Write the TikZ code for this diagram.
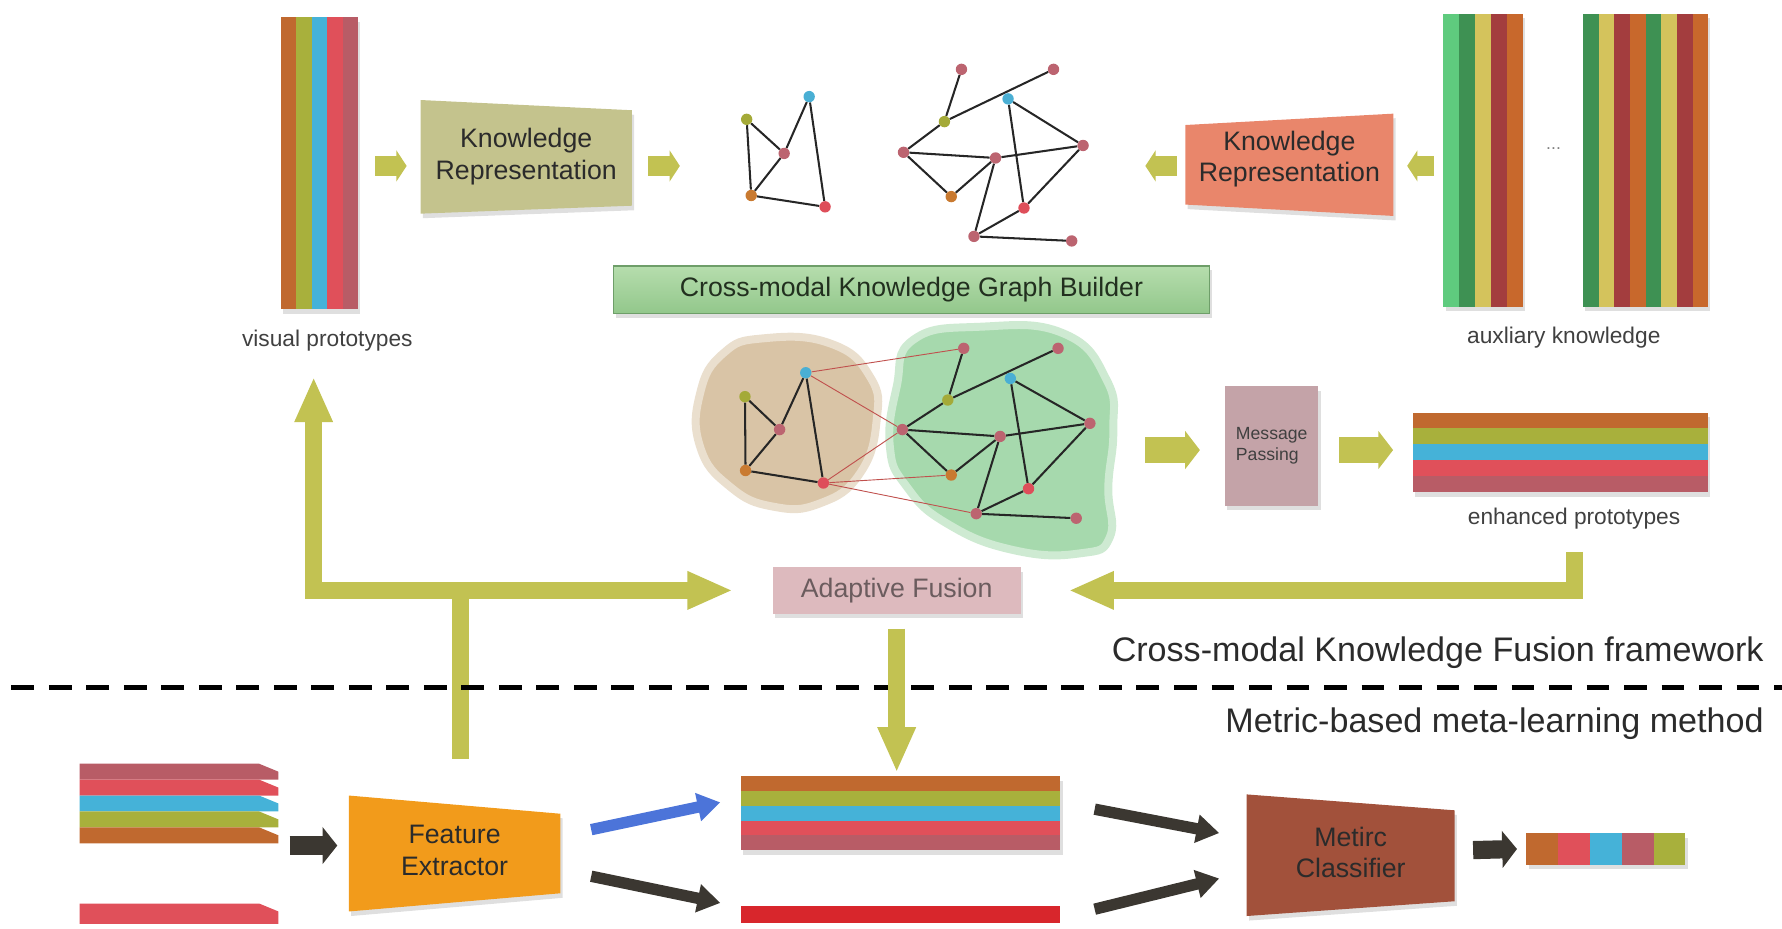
\documentclass[tikz,border=0pt]{standalone}
\usepackage{fontspec}
\setmainfont{Liberation Sans}
\usetikzlibrary{arrows.meta,calc,shadows}
\pgfdeclarelayer{back}
\pgfdeclarelayer{bg}
\pgfsetlayers{back,bg,main}
\definecolor{pOrange}{HTML}{C0692F}
\definecolor{pOlive}{HTML}{A8B03C}
\definecolor{pBlue}{HTML}{45B2D8}
\definecolor{pRed}{HTML}{E0505A}
\definecolor{pRose}{HTML}{B85C66}
\definecolor{kLgreen}{HTML}{5FCB7E}
\definecolor{kDgreen}{HTML}{3E9153}
\definecolor{kYellow}{HTML}{D4C35C}
\definecolor{kDred}{HTML}{A33D3E}
\definecolor{kOrange}{HTML}{C8682C}
\definecolor{flowOlive}{HTML}{C2C252}
\definecolor{krOlive}{HTML}{C4C38D}
\definecolor{krSalmon}{HTML}{E9866B}
\definecolor{builderTop}{HTML}{B6DDAD}
\definecolor{builderBot}{HTML}{92C78B}
\definecolor{builderLine}{HTML}{6E9E69}
\definecolor{builderText}{HTML}{22301F}
\definecolor{blobTan}{HTML}{D9C4A6}
\definecolor{blobGreen}{HTML}{A6D9AD}
\definecolor{mpMauve}{HTML}{C4A3A8}
\definecolor{afPink}{HTML}{DDBABE}
\definecolor{afText}{HTML}{6B5C5E}
\definecolor{feOrange}{HTML}{F29B1B}
\definecolor{mcBrown}{HTML}{A2513B}
\definecolor{darkArrow}{HTML}{3B3731}
\definecolor{blueArrow}{HTML}{4C74D9}
\definecolor{qRed}{HTML}{D8262C}
\definecolor{txt}{HTML}{2B2B2B}
\definecolor{crossEdge}{HTML}{C0504D}
\definecolor{gGreen}{HTML}{A4AA38}
\definecolor{gBlue}{HTML}{4AAFD4}
\definecolor{gRose}{HTML}{BC6470}
\definecolor{gOrange}{HTML}{C97A30}
\definecolor{gRed}{HTML}{DE4E5A}
\newcommand\lblfont{\fontsize{23.5}{28}\selectfont}
\newcommand\capfont{\fontsize{20}{24}\selectfont}
\newcommand\secfont{\fontsize{30}{36}\selectfont}
\newcommand\mpfont{\fontsize{15.5}{18.5}\selectfont}
\tikzset{
    tag/.style={inner sep=0pt, draw=none, align=center, text=txt},
    captext/.style={inner sep=0pt, text=txt!90, font=\capfont},
    soft shadow/.style={drop shadow={opacity=0.25, shadow xshift=2pt, shadow yshift=-4pt}},
    gnode/.style={circle, inner sep=0pt, minimum size=10pt, fill=#1},
    gedge/.style={line width=1.8pt, black!85},
    xedge/.style={line width=0.8pt, crossEdge},
    small flow/.style={flowOlive, line width=17pt, -{Triangle[width=27pt,length=9pt]}},
    mid flow/.style={flowOlive, line width=23pt, -{Triangle[width=33pt,length=13pt]}},
    big flow/.style={flowOlive, line width=15pt, line join=miter, -{Triangle[width=31pt,length=40pt]}},
    dark block/.style={darkArrow, line width=16pt, -{Triangle[width=32pt,length=13pt]}},
    dark flow/.style={darkArrow, line width=10pt, -{Triangle[width=24pt,length=20pt]}}
}

\begin{document}
\begin{tikzpicture}[x=1pt,y=-1pt]
        \useasboundingbox (0,0) rectangle (1568,817);
        \coordinate (row) at (0,146);
        \path[fill=pRose, soft shadow] (247,15) rectangle (315,272);
        \foreach \c [count=\i from 0] in {pOrange,pOlive,pBlue,pRed,pRose}
                \fill[\c] (247+13.6*\i,15) rectangle ++(13.6,257);
        \node (vis) [tag, minimum width=68pt, minimum height=257pt] at (281,143.5) {};
        \node (vislab) [captext] at (288,300) {visual prototypes};
        \begin{pgfonlayer}{bg}
                \fill[krOlive, soft shadow] (370,88) -- (556,97) -- (556,181) -- (370,188) -- cycle;
                \fill[krSalmon, soft shadow] (1043,110) -- (1226,100) -- (1226,190) -- (1043,180) -- cycle;
        \end{pgfonlayer}
        \node (kr1) [tag, font=\lblfont, minimum width=186pt, minimum height=100pt] at (463,138) {Knowledge\\Representation};
        \node (kr2) [tag, font=\lblfont, minimum width=183pt, minimum height=90pt] at (1134.5,140) {Knowledge\\Representation};
        \path[fill=kOrange, soft shadow] (1270,12) rectangle (1340,270);
        \foreach \c [count=\i from 0] in {kLgreen,kDgreen,kYellow,kDred,kOrange}
                \fill[\c] (1270+14*\i,12) rectangle ++(14,258);
        \path[fill=kOrange, soft shadow] (1393,12) rectangle (1503,270);
        \foreach \c [count=\i from 0] in {kDgreen,kYellow,kDred,kOrange,kDgreen,kYellow,kDred,kOrange}
                \fill[\c] (1393+13.75*\i,12) rectangle ++(13.75,258);
        \node (aux1) [tag, minimum width=70pt, minimum height=258pt] at (1305,141) {};
        \node (aux2) [tag, minimum width=110pt, minimum height=258pt] at (1448,141) {};
        \node (auxdots) [tag, text=gray, font=\mpfont] at (1367,131) {...};
        \node (auxlab) [captext] at (1376,297) {auxliary knowledge};
        \draw[small flow] ($(vis.east |- row)+(15,0)$) -- ($(kr1.west |- row)+(-12,0)$);
        \draw[small flow] ($(kr1.east |- row)+(14,0)$) -- ($(kr1.east |- row)+(42,0)$);
        \draw[small flow] ($(kr2.west |- row)+(-7,0)$) -- ($(kr2.west |- row)+(-35,0)$);
        \draw[small flow] ($(aux1.west |- row)+(-8,0)$) -- ($(kr2.east |- row)+(12,0)$);
        \node (v0) [gnode=gGreen] at (657,105) {};
        \node (v1) [gnode=gBlue] at (712,85) {};
        \node (v2) [gnode=gRose] at (690,135) {};
        \node (v3) [gnode=gOrange] at (661,172) {};
        \node (v4) [gnode=gRed] at (726,182) {};
        \node (k0) [gnode=gRose] at (846,61) {};
        \node (k1) [gnode=gRose] at (927,61) {};
        \node (k2) [gnode=gGreen] at (831,107) {};
        \node (k3) [gnode=gBlue] at (887,87) {};
        \node (k4) [gnode=gRose] at (795,134) {};
        \node (k5) [gnode=gRose] at (876,139) {};
        \node (k6) [gnode=gRose] at (953,128) {};
        \node (k7) [gnode=gOrange] at (837,173) {};
        \node (k8) [gnode=gRed] at (901,183) {};
        \node (k9) [gnode=gRose] at (857,208) {};
        \node (k10) [gnode=gRose] at (943,212) {};
        \begin{pgfonlayer}{bg}
                \draw[gedge] (v0) -- (v2);
                \draw[gedge] (v0) -- (v3);
                \draw[gedge] (v1) -- (v2);
                \draw[gedge] (v2) -- (v3);
                \draw[gedge] (v1) -- (v4);
                \draw[gedge] (v3) -- (v4);
                \draw[gedge] (k0) -- (k2);
                \draw[gedge] (k2) -- (k4);
                \draw[gedge] (k2) -- (k1);
                \draw[gedge] (k4) -- (k5);
                \draw[gedge] (k5) -- (k6);
                \draw[gedge] (k4) -- (k7);
                \draw[gedge] (k7) -- (k5);
                \draw[gedge] (k5) -- (k9);
                \draw[gedge] (k9) -- (k8);
                \draw[gedge] (k8) -- (k6);
                \draw[gedge] (k9) -- (k10);
                \draw[gedge] (k3) -- (k8);
                \draw[gedge] (k3) -- (k6);
        \end{pgfonlayer}
        \node (builder) [tag, font=\lblfont, text=builderText, minimum width=524pt, minimum height=42pt, top color=builderTop, bottom color=builderBot, draw=builderLine, line width=1pt, soft shadow] at (802,255) {Cross-modal Knowledge Graph Builder};
        \begin{pgfonlayer}{back}
                \fill[blobTan, draw=blobTan!55, line width=7pt] plot[smooth cycle, tension=0.8] coordinates {(671.7,297.7) (730.3,302.1) (765.5,331.4) (771.4,369.6) (756.7,416.5) (721.5,442.9) (680.4,445.8) (642.3,428.2) (616,393) (616,346.1) (636.4,310.9)};
                \fill[blobGreen, draw=blobGreen!55, line width=7pt] plot[smooth cycle, tension=0.8] coordinates {(803.6,299) (862.3,287.5) (935.6,293.3) (973.8,334.4) (979.6,378.4) (975.2,428.2) (976.7,472.2) (950.3,486.9) (891.6,484) (833,460.5) (797.8,428.2) (783,393) (789,340.2)};
        \end{pgfonlayer}
        \node (fv0) [gnode=gGreen] at (655.5,349) {};
        \node (fv1) [gnode=gBlue] at (709,328) {};
        \node (fv2) [gnode=gRose] at (686,378) {};
        \node (fv3) [gnode=gOrange] at (656,414) {};
        \node (fv4) [gnode=gRed] at (724.5,425) {};
        \node (fk0) [gnode=gRose] at (848,306.5) {};
        \node (fk1) [gnode=gRose] at (931,306.5) {};
        \node (fk2) [gnode=gGreen] at (834,352) {};
        \node (fk3) [gnode=gBlue] at (889,333) {};
        \node (fk4) [gnode=gRose] at (794,378) {};
        \node (fk5) [gnode=gRose] at (880,384) {};
        \node (fk6) [gnode=gRose] at (959,372.5) {};
        \node (fk7) [gnode=gOrange] at (837,418) {};
        \node (fk8) [gnode=gRed] at (905,430) {};
        \node (fk9) [gnode=gRose] at (859,452) {};
        \node (fk10) [gnode=gRose] at (947,456) {};
        \begin{pgfonlayer}{bg}
                \draw[gedge] (fv0) -- (fv2);
                \draw[gedge] (fv0) -- (fv3);
                \draw[gedge] (fv1) -- (fv2);
                \draw[gedge] (fv2) -- (fv3);
                \draw[gedge] (fv1) -- (fv4);
                \draw[gedge] (fv3) -- (fv4);
                \draw[gedge] (fk0) -- (fk2);
                \draw[gedge] (fk2) -- (fk4);
                \draw[gedge] (fk2) -- (fk1);
                \draw[gedge] (fk4) -- (fk5);
                \draw[gedge] (fk5) -- (fk6);
                \draw[gedge] (fk4) -- (fk7);
                \draw[gedge] (fk7) -- (fk5);
                \draw[gedge] (fk5) -- (fk9);
                \draw[gedge] (fk9) -- (fk8);
                \draw[gedge] (fk8) -- (fk6);
                \draw[gedge] (fk9) -- (fk10);
                \draw[gedge] (fk3) -- (fk8);
                \draw[gedge] (fk3) -- (fk6);
                \draw[xedge] (fv1) -- (fk0);
                \draw[xedge] (fv1) -- (fk4);
                \draw[xedge] (fv4) -- (fk4);
                \draw[xedge] (fv4) -- (fk7);
                \draw[xedge] (fv4) -- (fk9);
        \end{pgfonlayer}
        \node (mp) [tag, fill=mpMauve, text=txt!90, font=\mpfont, align=left, minimum width=82pt, minimum height=105pt, soft shadow] at (1119,392.5) {Message\\Passing};
        \path[fill=pRose, soft shadow] (1243,363) rectangle (1503,433);
        \foreach \c [count=\i from 0] in {pOrange,pOlive,pBlue,pRed,pRose}
                \fill[\c] (1243,363+14*\i) rectangle ++(260,14);
        \node (enh) [tag, minimum width=260pt, minimum height=70pt] at (1373,398) {};
        \node (enhlab) [captext] at (1385,456) {enhanced prototypes};
        \draw[mid flow] ($(mp.west)+(-70,3.5)$) -- ($(mp.west)+(-22,3.5)$);
        \draw[mid flow] ($(mp.east)+(18,3.5)$) -- ($(enh.west |- mp.east)+(-17,3.5)$);
        \node (af) [tag, fill=afPink, text=afText, font=\lblfont, minimum width=218pt, minimum height=41pt, soft shadow] at (789,519.5) {Adaptive Fusion};
        \coordinate (jl) at (276,519.5);
        \begin{pgfonlayer}{bg}
                \fill[feOrange, soft shadow] (307,700) -- (493,716) -- (493,786) -- (307,802) -- cycle;
                \fill[mcBrown, soft shadow] (1097,699) -- (1280,713) -- (1280,793) -- (1097,806) -- cycle;
        \end{pgfonlayer}
        \node (fe) [tag, font=\lblfont, minimum width=186pt, minimum height=102pt] at (400,748) {Feature\\Extractor};
        \node (mc) [tag, font=\lblfont, minimum width=183pt, minimum height=107pt] at (1188.5,750) {Metirc\\Classifier};
        \draw[flowOlive, line width=15pt] ($(fe.north)+(5,-29)$) -- ++(0,-149);
        \draw[big flow, {Triangle[width=31pt,length=40pt]}-{Triangle[width=31pt,length=40pt]}] ($(vislab.south)+(-12,22)$) -- (jl) -- ($(af.west)+(-35,0)$);
        \draw[big flow] ($(enhlab.south)+(0,20)$) |- ($(af.east)+(42,0)$);
        \draw[line width=4pt, dash pattern=on 20pt off 13pt] (10,605) -- (1568,605);
        \node (cmkf) [tag, anchor=east, font=\secfont] at (1552,574) {Cross-modal Knowledge Fusion framework};
        \node (mbml) [tag, anchor=east, font=\secfont] at (1552,637) {Metric-based meta-learning method};
        \foreach \c [count=\i from 0] in {pRose,pRed,pBlue,pOlive,pOrange}
                \fill[\c] (70,672+14*\i) -- (228,672+14*\i) -- (245,679+14*\i) -- (245,686+14*\i) -- (70,686+14*\i) -- cycle;
        \fill[pRed] (70,795) -- (228,795) -- (245,802) -- (245,813) -- (70,813) -- cycle;
        \node (sup) [tag, minimum width=175pt, minimum height=70pt] at (157.5,707) {};
        \node (qry) [tag, minimum width=175pt, minimum height=18pt] at (157.5,804) {};
        \path[fill=pRose, soft shadow] (652,683) rectangle (933,748);
        \foreach \c [count=\i from 0] in {pOrange,pOlive,pBlue,pRed,pRose}
                \fill[\c] (652,683+13*\i) rectangle ++(281,13);
        \fill[qRed] (652,797) rectangle (933,812);
        \node (sf) [tag, minimum width=281pt, minimum height=65pt] at (792.5,715.5) {};
        \node (qf) [tag, minimum width=281pt, minimum height=15pt] at (792.5,804.5) {};
        \path[fill=pOlive, soft shadow] (1343,733) rectangle (1483,761);
        \foreach \c [count=\i from 0] in {pOrange,pRed,pBlue,pRose,pOlive}
                \fill[\c] (1343+28*\i,733) rectangle ++(28,28);
        \node (out) [tag, minimum width=140pt, minimum height=28pt] at (1413,747) {};
        \draw[big flow] ($(af.south)+(0,13)$) -- ($(af.south |- sf.north)+(0,-3)$);
        \draw[dark block] ($(fe.west)+(-52,-4)$) -- ($(fe.west)+(-10,-4)$);
        \draw[dark flow, blueArrow] ($(fe.east)+(27,-18)$) -- ($(sf.west)+(-18,-9.5)$);
        \draw[dark flow] ($(fe.east)+(27,23)$) -- ($(qf.west)+(-18,-10)$);
        \draw[dark flow] ($(sf.east)+(30,-3.5)$) -- ($(mc.west)+(-24,-17)$);
        \draw[dark flow] ($(qf.east)+(30,-4.5)$) -- ($(mc.west)+(-24,23)$);
        \draw[dark block] ($(mc.east)+(16,-2)$) -- ($(out.west)+(-8,0)$);
\end{tikzpicture}
\end{document}
